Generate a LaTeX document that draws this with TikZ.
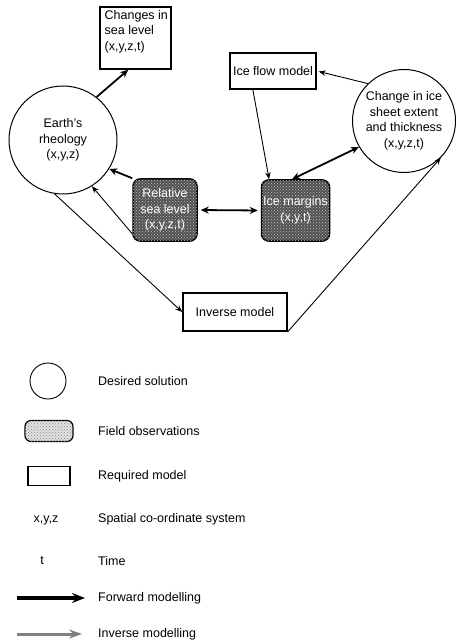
\documentclass[tikz,border=0pt]{standalone}
\usepackage{fontspec}
\setmainfont{Liberation Sans}
\usetikzlibrary{arrows.meta,calc,patterns}

\tikzset{
  lbl/.style={font=\fontsize{12.5}{15.5}\selectfont, inner sep=0pt},
  modelbox/.style={lbl, draw, line width=1.5pt, rectangle, align=center},
  solution/.style={lbl, draw, circle, line width=1pt, align=center},
  fieldobs/.style={lbl, draw, line width=1.5pt, rounded corners=7pt,
    fill=black!68, text=white, align=center,
    postaction={pattern=crosshatch dots, pattern color=white!75!black}},
  fwd/.style={line width=1.8pt, -{Stealth[length=8pt,width=7pt]}},
  fwdboth/.style={line width=1.8pt,
    {Stealth[length=8pt,width=7pt]}-{Stealth[length=8pt,width=7pt]}},
  thinarrow/.style={line width=0.9pt, -{Stealth[length=7pt,width=5.5pt]}},
}

\begin{document}
\begin{tikzpicture}[x=1pt,y=-1pt]
\useasboundingbox (0,0) rectangle (458,644);

% desired solutions
\node[solution, minimum size=108pt] (earth) at (63,140)
  {Earth's\\rheology\\(x,y,z)};
\node[solution, minimum size=103pt] (ice) at (404,121)
  {Change in ice\\sheet extent\\and thickness\\(x,y,z,t)};

% required models
\node[modelbox, minimum width=71pt, minimum height=62pt] (sea) at (135.5,38) {};
\node[lbl, align=left, anchor=north west] (sealbl) at (104.5,10)
  {Changes in\\sea level\\(x,y,z,t)};
\node[modelbox, minimum width=86pt, minimum height=36pt] (flow) at (273,71)
  {Ice flow model};
\node[modelbox, minimum width=104pt, minimum height=38pt] (inv) at (235,312)
  {Inverse model};

% field observations
\node[fieldobs, minimum width=64pt, minimum height=62pt] (rsl) at (165,210)
  {Relative\\sea level\\(x,y,z,t)};
\node[fieldobs, minimum width=68pt, minimum height=61pt] (marg) at (295.5,210.5)
  {Ice margins\\(x,y,t)};

% connectors
\draw[fwd] (earth.52) -- ($(sea.south west)!0.4!(sea.south east)$);
\draw[thinarrow, shorten >=2pt] (ice.134) -- (flow.east);
\draw[thinarrow] ($(flow.south west)!0.27!(flow.south east)$)
  -- ($(marg.north west)!0.12!(marg.north east)$);
\draw[fwdboth] ($(marg.north west)!0.45!(marg.north east)$) -- (ice.210);
\draw[fwdboth, shorten <=3pt, shorten >=3pt] (rsl.east) -- (marg.west);
\draw[fwd] (rsl.north west) -- (earth.-32);
\draw[thinarrow] ($(rsl.south west)+(0,-8)$) -- (earth.-58);
\draw[thinarrow] (earth.-99) -- (inv.west);
\draw[thinarrow] (inv.south east) -- (ice.-45);

% key
\node[draw, circle, line width=0.9pt, minimum size=36pt] (kcirc) at (48,381) {};
\node[draw, line width=1.2pt, rounded corners=6pt, fill=black!12,
      postaction={pattern=crosshatch dots, pattern color=black!45},
      minimum width=48pt, minimum height=21pt] (kobs) at (49,431) {};
\node[draw, line width=1.5pt, minimum width=42pt, minimum height=19pt]
  (kmod) at (49,476) {};
\node[lbl] (kxyz) at (46,520) {x,y,z};
\node[lbl] (kt) at (42,561) {t};
\coordinate (kfa) at (17,598);
\coordinate (kfb) at (85,598);
\draw[line width=3.5pt, -{Stealth[length=13pt,width=10pt]}] (kfa) -- (kfb);
\coordinate (kia) at (17,634);
\coordinate (kib) at (82,634);
\draw[line width=3pt, draw=black!50, -{Stealth[length=13pt,width=9pt]}]
  (kia) -- (kib);

\node[lbl, anchor=west] (t1) at (98,381) {Desired solution};
\node[lbl, anchor=west] (t2) at (98,431) {Field observations};
\node[lbl, anchor=west] (t3) at (98,476) {Required model};
\node[lbl, anchor=west] (t4) at (98,519) {Spatial co-ordinate system};
\node[lbl, anchor=west] (t5) at (98,561) {Time};
\node[lbl, anchor=west] (t6) at (98,598) {Forward modelling};
\node[lbl, anchor=west] (t7) at (98,634) {Inverse modelling};
\end{tikzpicture}
\end{document}
